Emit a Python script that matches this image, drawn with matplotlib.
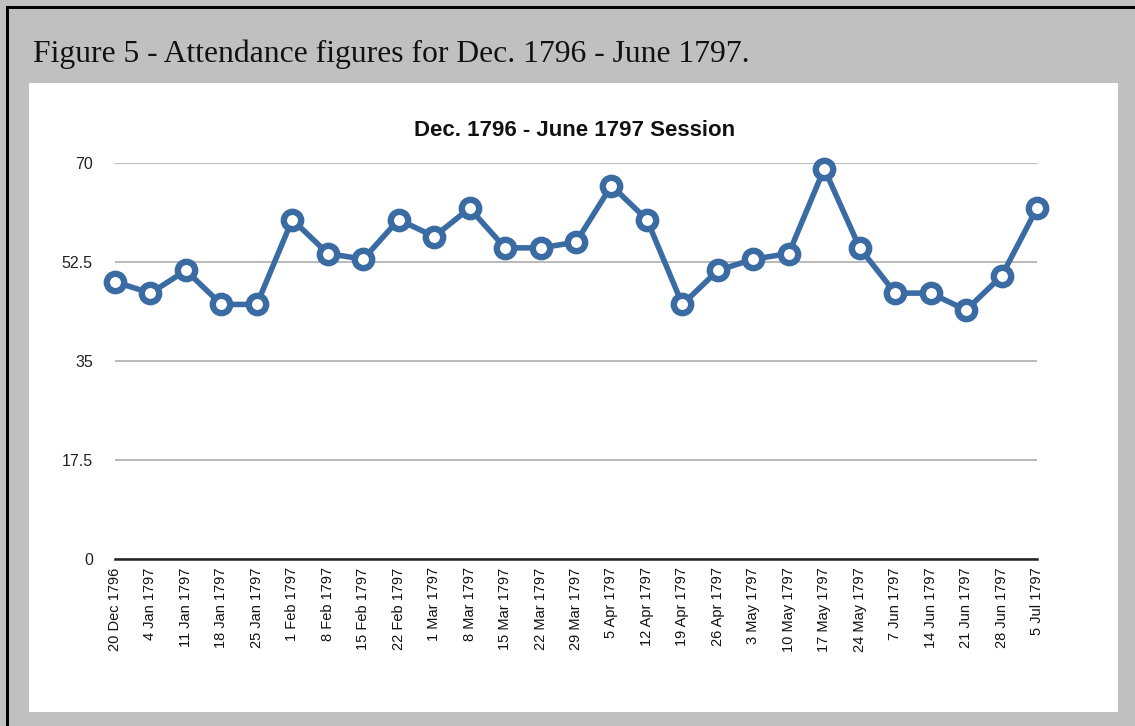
import matplotlib
matplotlib.use("Agg")
import matplotlib.pyplot as plt
from matplotlib.patches import Rectangle

# Attendance per sitting, Dec. 1796 - June 1797 session
dates = ['20 Dec 1796', '4 Jan 1797', '11 Jan 1797', '18 Jan 1797', '25 Jan 1797',
         '1 Feb 1797', '8 Feb 1797', '15 Feb 1797', '22 Feb 1797', '1 Mar 1797',
         '8 Mar 1797', '15 Mar 1797', '22 Mar 1797', '29 Mar 1797', '5 Apr 1797',
         '12 Apr 1797', '19 Apr 1797', '26 Apr 1797', '3 May 1797', '10 May 1797',
         '17 May 1797', '24 May 1797', '7 Jun 1797', '14 Jun 1797', '21 Jun 1797',
         '28 Jun 1797', '5 Jul 1797']
attendance = [49, 47, 51, 45, 45, 60, 54, 53, 60, 57, 62, 55, 55, 56, 66,
              60, 45, 51, 53, 54, 69, 55, 47, 47, 44, 50, 62]
yticks = [0, 17.5, 35, 52.5, 70]

W, H = 1135, 726
fig = plt.figure(figsize=(W / 100, H / 100), dpi=100)
fig.patch.set_facecolor('#c0c0c0')

# white panel and the black frame edges (top, left)
fig.patches.append(Rectangle((29 / W, 1 - 712 / H), (1118 - 29) / W, (712 - 83) / H,
                             transform=fig.transFigure, facecolor='white',
                             edgecolor='none', zorder=0))
fig.patches.append(Rectangle((6 / W, 0), 3 / W, 1 - 6 / H, transform=fig.transFigure,
                             facecolor='black', edgecolor='none', zorder=1))
fig.patches.append(Rectangle((6 / W, 1 - 9 / H), 1 - 6 / W, 3 / H, transform=fig.transFigure,
                             facecolor='black', edgecolor='none', zorder=1))

fig.text(33 / W, 1 - 62 / H, 'Figure 5 - Attendance figures for Dec. 1796 - June 1797.',
         fontfamily='Liberation Serif', fontsize=22.8, color='#111111',
         ha='left', va='baseline')

ax = fig.add_axes([115 / W, 1 - 559 / H, (1037 - 115) / W, (559 - 163) / H])
ax.set_zorder(2)
ax.set_facecolor('none')
x = list(range(len(dates)))
ax.plot(x, attendance, color='#3a6ca3', linewidth=4, marker='o', markersize=12.5,
        markerfacecolor='white', markeredgecolor='#3a6ca3', markeredgewidth=4.6,
        clip_on=False, zorder=3)

ax.set_xlim(0, len(dates) - 1)
ax.set_ylim(0, 70)
ax.set_yticks(yticks)
ax.set_yticklabels(['0', '17.5', '35', '52.5', '70'])
ax.set_xticks(x)
ax.set_xticklabels(dates, rotation=90)
ax.yaxis.grid(True, color='#b4b4b4', linewidth=1.3)
ax.set_axisbelow(True)
for s in ['top', 'right', 'left']:
    ax.spines[s].set_visible(False)
ax.spines['bottom'].set_color('#222222')
ax.spines['bottom'].set_linewidth(1.8)
ax.tick_params(axis='both', length=0)
ax.tick_params(axis='y', pad=16, labelsize=11.5, labelcolor='#222222')
ax.tick_params(axis='x', pad=6, labelsize=10.5, labelcolor='#111111')
for lab in ax.get_xticklabels() + ax.get_yticklabels():
    lab.set_fontfamily('Liberation Sans')

fig.text(575 / W, 1 - 131 / H, 'Dec. 1796 - June 1797 Session', fontfamily='Liberation Sans',
         fontweight='bold', fontsize=16, color='#111111', ha='center', va='center')

fig.savefig('out.png', dpi=100, facecolor=fig.get_facecolor())
